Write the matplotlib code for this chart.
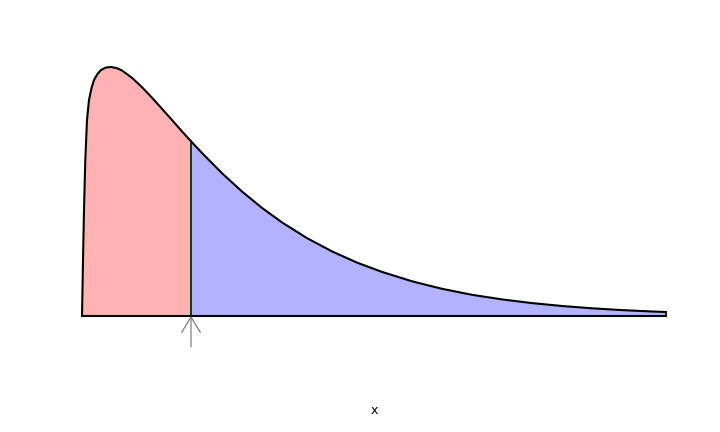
import numpy as np
import matplotlib
matplotlib.use("Agg")
import matplotlib.pyplot as plt

# плотность (x, f(x))
x_vals = [0.0, 0.0167, 0.0333, 0.0667, 0.11, 0.1667, 0.2333, 0.3167, 0.4,
          0.5167, 0.6333, 0.8, 0.9667, 1.1667, 1.3333, 1.6667, 2.0, 2.3333,
          2.6667, 3.0, 3.3333, 3.6333, 4.0, 4.6667, 5.3333, 6.0, 6.6667, 7.5,
          8.3333, 9.1667, 10.0, 11.0, 12.0, 13.0, 14.0, 15.0, 16.0, 17.0,
          18.0, 19.0, 19.4667]
y_vals = [0.0, 0.027, 0.056, 0.106, 0.156, 0.196, 0.216, 0.228, 0.236,
          0.242, 0.246, 0.2485, 0.249, 0.2478, 0.2455, 0.2382, 0.2288, 0.2183,
          0.2072, 0.196, 0.1846, 0.1747, 0.163, 0.1428, 0.1245, 0.1081, 0.0936, 0.0779,
          0.0646, 0.0534, 0.0441, 0.0347, 0.0272, 0.0212, 0.0166, 0.0129, 0.0100, 0.0077,
          0.0059, 0.0045, 0.0040]
x_cut = 3.6333

x = np.array(x_vals)
y = np.array(y_vals)
left = x <= x_cut
right = x >= x_cut

fig = plt.figure(figsize=(7.2, 4.32), dpi=100)
ax = fig.add_axes([0, 0, 1, 1])
ax.set_xlim(-82 / 30, (720 - 82) / 30)
ax.set_ylim(-0.116, 0.316)
ax.axis('off')

# закрашенные области
ax.fill_between(x[left], 0, y[left], color=(1, 0, 0, 0.3), linewidth=0)
ax.fill_between(x[right], 0, y[right], color=(0, 0, 1, 0.3), linewidth=0)

# граница между областями и правый край
ax.plot([x_cut, x_cut], [0, y[left][-1]], color='#0a3d0a', lw=1.4)
ax.plot([x[-1], x[-1]], [0, y[-1]], color='black', lw=1.2)

# кривая и ось
ax.plot(x, y, color='black', lw=1.5, solid_joinstyle='round')
ax.plot([x[0], x[-1]], [0, 0], color='black', lw=1.5)

# стрелка
ax.annotate('', xy=(x_cut, 0), xytext=(x_cut, -0.031),
            arrowprops=dict(arrowstyle='->,head_length=1.1,head_width=0.67',
                            color='#707070', lw=0.8, shrinkA=0, shrinkB=0))

fig.text(374 / 720, 1 - 410 / 432, 'x', ha='center', va='center', fontsize=9)

fig.savefig('out.png', dpi=100)
